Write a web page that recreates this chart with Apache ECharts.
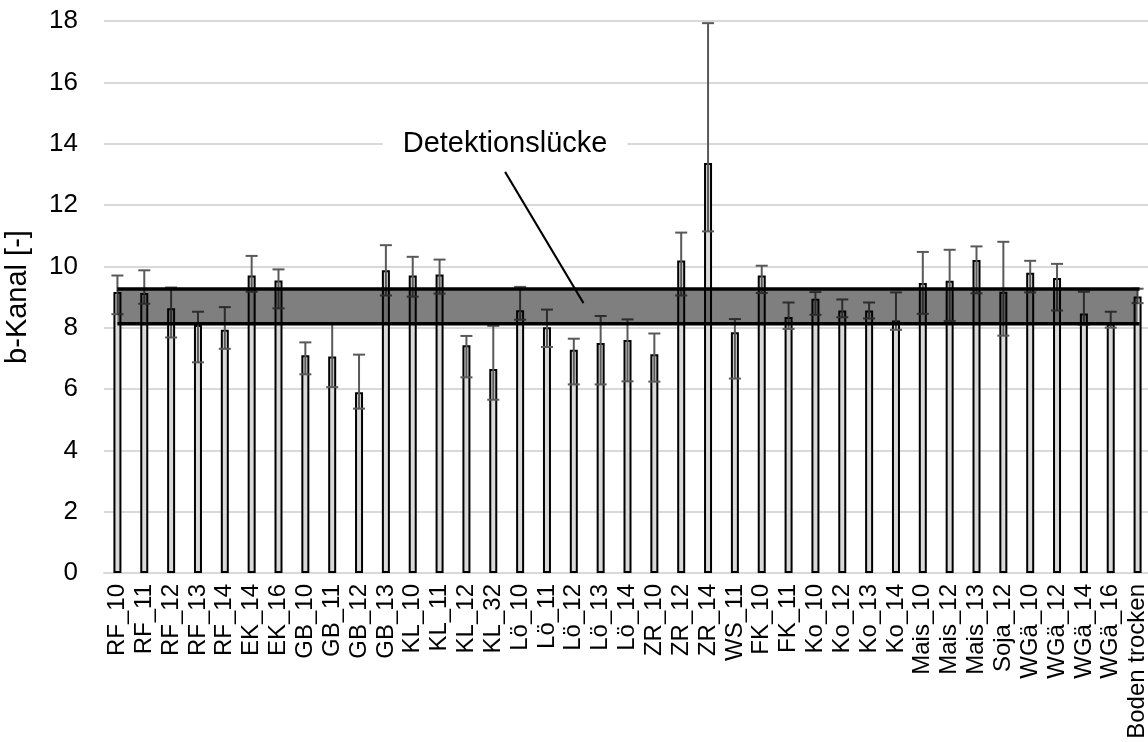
<!DOCTYPE html>
<html>
<head>
<meta charset="utf-8">
<title>b-Kanal</title>
<script src="https://cdn.jsdelivr.net/npm/echarts@6/dist/echarts.min.js"></script>
<style>
  html, body { margin: 0; padding: 0; background: #fff; }
  #chart { width: 1148px; height: 742px; }
</style>
</head>
<body>
<div id="chart"></div>
<script>
// Kategorien
const categories = [
  "RF_10", "RF_11", "RF_12", "RF_13", "RF_14", "EK_14", "EK_16",
  "GB_10", "GB_11", "GB_12", "GB_13", "KL_10", "KL_11", "KL_12", "KL_32",
  "Lö_10", "Lö_11", "Lö_12", "Lö_13", "Lö_14", "ZR_10", "ZR_12", "ZR_14",
  "WS_11", "FK_10", "FK_11", "Ko_10", "Ko_12", "Ko_13", "Ko_14",
  "Mais_10", "Mais_12", "Mais_13", "Soja_12", "WGä_10", "WGä_12", "WGä_14", "WGä_16",
  "Boden trocken"
];
// Mittelwerte
const meanValues = [
  9.16, 9.13, 8.63, 8.09, 7.93, 9.70, 9.54,
  7.10, 7.06, 5.89, 9.87, 9.70, 9.73, 7.43, 6.65,
  8.57, 8.01, 7.28, 7.50, 7.60, 7.13, 10.19, 13.37,
  7.85, 9.70, 8.35, 8.94, 8.56, 8.56, 8.23,
  9.46, 9.53, 10.21, 9.17, 9.79, 9.62, 8.46, 8.13,
  9.02
];
// Fehlerbalken oben / unten
const errorHigh = [
  9.70, 9.87, 9.31, 8.52, 8.67, 10.34, 9.90,
  7.52, 8.12, 7.12, 10.69, 10.31, 10.22, 7.73, 8.06,
  9.33, 8.59, 7.64, 8.38, 8.27, 7.81, 11.10, 17.93,
  8.28, 10.02, 8.82, 9.16, 8.92, 8.82, 9.15,
  10.47, 10.54, 10.65, 10.80, 10.18, 10.08, 9.17, 8.52,
  9.27
];
const errorLow = [
  8.44, 8.78, 7.68, 6.87, 7.31, 9.17, 8.63,
  6.48, 6.06, 5.36, 9.05, 9.01, 9.11, 6.38, 5.65,
  8.26, 7.37, 6.15, 6.15, 6.25, 6.24, 9.05, 11.14,
  6.34, 9.13, 7.96, 8.42, 8.34, 8.30, 7.93,
  8.45, 8.22, 9.12, 7.74, 9.15, 8.56, 8.10, 8.00,
  8.80
];
// Detektionslücke
const bandLow = 8.13;
const bandHigh = 9.26;
const yTicks = [0, 2, 4, 6, 8, 10, 12, 14, 16, 18];

const FONT = "Liberation Sans, Arial, sans-serif";

const dom = document.getElementById("chart");
const chart = echarts.init(dom, null, { renderer: "canvas" });

const errorData = categories.map((c, i) => [i, errorLow[i], errorHigh[i]]);

const options = {
  animation: false,
  backgroundColor: "#ffffff",
  grid: {
    left: 104,
    right: -3,
    top: 21,
    bottom: 169,
    outerBoundsMode: "none",
  },
  xAxis: {
    type: "category",
    data: categories,
    axisLine: { show: true, lineStyle: { color: "#d9d9d9", width: 2 } },
    axisTick: { show: false },
    axisLabel: {
      interval: 0,
      rotate: 90,
      margin: 11,
      fontFamily: FONT,
      fontSize: 24,
      color: "#000",
    },
  },
  yAxis: {
    type: "value",
    min: yTicks[0],
    max: yTicks[yTicks.length - 1],
    interval: 2,
    name: "b-Kanal [-]",
    nameLocation: "middle",
    nameGap: 72,
    nameRotate: 90,
    nameTextStyle: { fontFamily: FONT, fontSize: 29, color: "#000" },
    axisLine: { show: false },
    axisTick: { show: false },
    axisLabel: { fontFamily: FONT, fontSize: 26, color: "#000", margin: 26 },
    splitLine: { lineStyle: { color: "#d9d9d9", width: 2 } },
  },
  series: [
    {
      name: "b-Kanal",
      type: "bar",
      barWidth: 8,
      data: meanValues,
      z: 2,
      itemStyle: { color: "#d9d9d9", borderColor: "#000", borderWidth: 2 },
    },
    {
      // Fehlerbalken
      type: "custom",
      z: 3,
      data: errorData,
      renderItem: (params, api) => {
        const x = api.value(0);
        const lo = api.coord([x, api.value(1)]);
        const hi = api.coord([x, api.value(2)]);
        const w = 6;
        const style = { stroke: "#595959", lineWidth: 2 };
        return {
          type: "group",
          children: [
            { type: "line", shape: { x1: lo[0], y1: lo[1], x2: hi[0], y2: hi[1] }, style },
            { type: "line", shape: { x1: hi[0] - w, y1: hi[1], x2: hi[0] + w, y2: hi[1] }, style },
            { type: "line", shape: { x1: lo[0] - w, y1: lo[1], x2: lo[0] + w, y2: lo[1] }, style },
          ],
        };
      },
    },
    {
      // Band
      type: "custom",
      z: 4,
      data: [[0, bandLow, categories.length - 1, bandHigh]],
      renderItem: (params, api) => {
        const p1 = api.coord([api.value(0), api.value(3)]);
        const p2 = api.coord([api.value(2), api.value(1)]);
        const line = { stroke: "#000", lineWidth: 3.5 };
        return {
          type: "group",
          children: [
            {
              type: "rect",
              shape: { x: p1[0], y: p1[1], width: p2[0] - p1[0], height: p2[1] - p1[1] },
              style: { fill: "rgba(0,0,0,0.5)" },
            },
            { type: "line", shape: { x1: p1[0], y1: p1[1], x2: p2[0] + 2, y2: p1[1] }, style: line },
            { type: "line", shape: { x1: p1[0], y1: p2[1], x2: p2[0] + 2, y2: p2[1] }, style: line },
          ],
        };
      },
    },
  ],
};

chart.setOption(options);

// Beschriftung "Detektionslücke" mit Pfeillinie
const note = { text: "Detektionslücke", x: 14.44, y: 14, lineFrom: [14.44, 13.08], lineTo: [17.36, 8.8] };
function catPx(idx, val) {
  const a = chart.convertToPixel({ gridIndex: 0 }, [Math.floor(idx), val]);
  const b = chart.convertToPixel({ gridIndex: 0 }, [Math.floor(idx) + 1, val]);
  const f = idx - Math.floor(idx);
  return [a[0] + (b[0] - a[0]) * f, a[1]];
}
const tp = catPx(note.x, note.y);
const l1 = catPx(note.lineFrom[0], note.lineFrom[1]);
const l2 = catPx(note.lineTo[0], note.lineTo[1]);
chart.setOption({
  graphic: [
    {
      type: "text",
      x: tp[0],
      y: tp[1],
      z: 10,
      style: {
        text: note.text,
        fontFamily: FONT,
        fontSize: 29,
        fill: "#000",
        align: "center",
        verticalAlign: "middle",
        backgroundColor: "#fff",
        padding: [4, 20],
      },
    },
    {
      type: "line",
      z: 10,
      shape: { x1: l1[0], y1: l1[1], x2: l2[0], y2: l2[1] },
      style: { stroke: "#000", lineWidth: 2 },
    },
  ],
});

window.addEventListener("resize", () => chart.resize());
</script>
</body>
</html>
